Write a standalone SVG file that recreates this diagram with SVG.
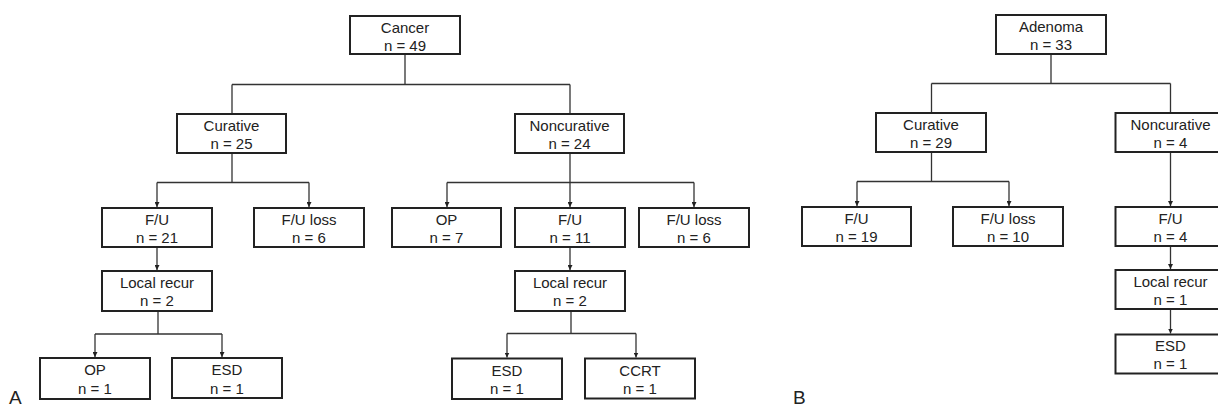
<svg xmlns="http://www.w3.org/2000/svg" width="1218" height="407" viewBox="0 0 1218 407">
<defs>
<style>
.box{fill:#fff;stroke:#222;stroke-width:2}
.t{font-family:"Liberation Sans",Arial,sans-serif;font-size:15px;fill:#222;text-anchor:middle}
.lbl{font-family:"Liberation Sans",Arial,sans-serif;font-size:19px;fill:#222}
.c{fill:none;stroke:#333;stroke-width:1.3}
</style>
<marker id="ah" viewBox="0 0 10 10" refX="10" refY="5" markerWidth="5" markerHeight="5" markerUnits="userSpaceOnUse" orient="auto">
<path d="M0,0 L10,5 L0,10 z" fill="#222"/>
</marker>
</defs>
<rect width="1218" height="407" fill="#fff"/>
<g id="connectors">
<path class="c" d="M405,54 V84.5 M232,84.5 H570 M232,84.5 V114 M570,84.5 V114"/>
<path class="c" d="M232,153 V182.5 M157,182.5 H309"/>
<path class="c" d="M157,182.5 V207" marker-end="url(#ah)"/>
<path class="c" d="M309,182.5 V207" marker-end="url(#ah)"/>
<path class="c" d="M157,247 V270" marker-end="url(#ah)"/>
<path class="c" d="M158,311 V334 M95,334 H222"/>
<path class="c" d="M95,334 V357" marker-end="url(#ah)"/>
<path class="c" d="M222,334 V357" marker-end="url(#ah)"/>
<path class="c" d="M570,153 V182.5 M447,182.5 H694"/>
<path class="c" d="M447,182.5 V207" marker-end="url(#ah)"/>
<path class="c" d="M570,182.5 V207" marker-end="url(#ah)"/>
<path class="c" d="M694,182.5 V207" marker-end="url(#ah)"/>
<path class="c" d="M570,247 V270" marker-end="url(#ah)"/>
<path class="c" d="M571,311 V333.5 M507,333.5 H636"/>
<path class="c" d="M507,333.5 V357.5" marker-end="url(#ah)"/>
<path class="c" d="M636,333.5 V357.5" marker-end="url(#ah)"/>
<path class="c" d="M1051,54 V83.5 M931.5,83.5 H1170.5 M931.5,83.5 V113 M1170.5,83.5 V113"/>
<path class="c" d="M931.5,152 V181.5 M857,181.5 H1009"/>
<path class="c" d="M857,181.5 V206" marker-end="url(#ah)"/>
<path class="c" d="M1009,181.5 V206" marker-end="url(#ah)"/>
<path class="c" d="M1170.5,152 V206" marker-end="url(#ah)"/>
<path class="c" d="M1170.5,246 V269" marker-end="url(#ah)"/>
<path class="c" d="M1170.5,309 V333.5" marker-end="url(#ah)"/>
</g>
<g id="cancer"><rect class="box" x="350" y="16" width="110" height="38"/><text class="t" x="405" y="33">Cancer</text><text class="t" x="405" y="51">n = 49</text></g>
<g id="a-curative"><rect class="box" x="177" y="114" width="109" height="39"/><text class="t" x="231.5" y="131">Curative</text><text class="t" x="231.5" y="149">n = 25</text></g>
<g id="a-noncurative"><rect class="box" x="515" y="114" width="109" height="39"/><text class="t" x="569.5" y="131">Noncurative</text><text class="t" x="569.5" y="149">n = 24</text></g>
<g id="a-fu"><rect class="box" x="102" y="208" width="110" height="39"/><text class="t" x="157" y="225">F/U</text><text class="t" x="157" y="243">n = 21</text></g>
<g id="a-fuloss"><rect class="box" x="254" y="208" width="110" height="39"/><text class="t" x="309" y="225">F/U loss</text><text class="t" x="309" y="243">n = 6</text></g>
<g id="a-lr"><rect class="box" x="102" y="271" width="110" height="40"/><text class="t" x="157" y="288">Local recur</text><text class="t" x="157" y="306">n = 2</text></g>
<g id="a-op1"><rect class="box" x="40" y="358" width="110" height="41"/><text class="t" x="95" y="375">OP</text><text class="t" x="95" y="394">n = 1</text></g>
<g id="a-esd1"><rect class="box" x="172" y="358" width="110" height="40"/><text class="t" x="227" y="375">ESD</text><text class="t" x="227" y="394">n = 1</text></g>
<g id="a-op"><rect class="box" x="392" y="208" width="109" height="39"/><text class="t" x="446.5" y="225">OP</text><text class="t" x="446.5" y="243">n = 7</text></g>
<g id="a-fu2"><rect class="box" x="515" y="208" width="110" height="39"/><text class="t" x="570" y="225">F/U</text><text class="t" x="570" y="243">n = 11</text></g>
<g id="a-fuloss2"><rect class="box" x="639" y="208" width="110" height="39"/><text class="t" x="694" y="225">F/U loss</text><text class="t" x="694" y="243">n = 6</text></g>
<g id="a-lr2"><rect class="box" x="515" y="271" width="110" height="40"/><text class="t" x="570" y="288">Local recur</text><text class="t" x="570" y="306">n = 2</text></g>
<g id="a-esd2"><rect class="box" x="452" y="358.5" width="110" height="40.5"/><text class="t" x="507" y="376">ESD</text><text class="t" x="507" y="394">n = 1</text></g>
<g id="a-ccrt"><rect class="box" x="585" y="358.5" width="110" height="40"/><text class="t" x="640" y="376">CCRT</text><text class="t" x="640" y="394">n = 1</text></g>
<g id="adenoma"><rect class="box" x="996" y="15" width="110" height="39"/><text class="t" x="1051" y="32">Adenoma</text><text class="t" x="1051" y="50">n = 33</text></g>
<g id="b-curative"><rect class="box" x="876" y="113" width="110" height="39"/><text class="t" x="931" y="130">Curative</text><text class="t" x="931" y="148">n = 29</text></g>
<g id="b-noncurative"><rect class="box" x="1115.5" y="113" width="110" height="39"/><text class="t" x="1170.5" y="130">Noncurative</text><text class="t" x="1170.5" y="148">n = 4</text></g>
<g id="b-fu"><rect class="box" x="802" y="207" width="109" height="39"/><text class="t" x="856.5" y="224">F/U</text><text class="t" x="856.5" y="242">n = 19</text></g>
<g id="b-fuloss"><rect class="box" x="953" y="207" width="110" height="39"/><text class="t" x="1008" y="224">F/U loss</text><text class="t" x="1008" y="242">n = 10</text></g>
<g id="b-fu2"><rect class="box" x="1115.5" y="207" width="110" height="39"/><text class="t" x="1170.5" y="224">F/U</text><text class="t" x="1170.5" y="242">n = 4</text></g>
<g id="b-lr"><rect class="box" x="1115.5" y="270" width="110" height="39"/><text class="t" x="1170.5" y="287">Local recur</text><text class="t" x="1170.5" y="305">n = 1</text></g>
<g id="b-esd"><rect class="box" x="1115.5" y="334.5" width="110" height="39"/><text class="t" x="1170.5" y="351">ESD</text><text class="t" x="1170.5" y="369">n = 1</text></g>
<text class="lbl" x="9" y="404">A</text>
<text class="lbl" x="793" y="404">B</text>
</svg>
